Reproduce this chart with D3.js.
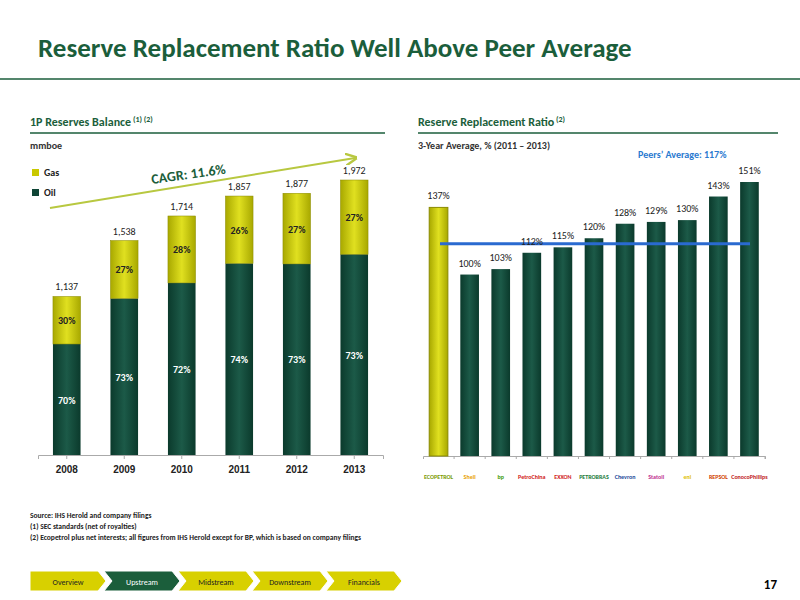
<!DOCTYPE html>
<html><head><meta charset="utf-8">
<script src="https://cdn.jsdelivr.net/npm/d3@7"></script>
<style>body{margin:0;background:#fff}svg{font-family:Calibri,"Liberation Sans Narrow","Open Sans",sans-serif}</style>
</head><body><svg width="800" height="600"></svg>
<script>
var years = ["2008","2009","2010","2011","2012","2013"];
var totals = [1137,1538,1714,1857,1877,1972];
var oilPct = [70,73,72,74,73,73];
var gasPct = [30,27,28,26,27,27];
var companies = ["ECOPETROL","Shell","bp","PetroChina","EXXON","PETROBRAS","Chevron","Statoil","eni","REPSOL","ConocoPhillips"];
var logoColors = ["#7a9a00","#e8a000","#3a9a00","#d02020","#d02020","#1a7a3a","#1a4a9a","#c03090","#e0c000","#d04000","#c02020"];
var rrr = [137,100,103,112,115,120,128,129,130,143,151];
var peerAvg = 117;

var svg = d3.select("svg");
var green = "#1b5e3b", oil = "#0f4536", gas = "#c9c800";

var defs = svg.append("defs");
function grad(id, c1, c2) {
  var g = defs.append("linearGradient").attr("id", id);
  g.append("stop").attr("offset", "0%").attr("stop-color", c2);
  g.append("stop").attr("offset", "50%").attr("stop-color", c1);
  g.append("stop").attr("offset", "100%").attr("stop-color", c2);
}
grad("gOil", "#1c5a48", "#0b3a2c");
grad("gGas", "#e0e020", "#a8a800");

// title
svg.append("text").attr("x", 38).attr("y", 57).attr("font-size", 27).attr("font-weight", "bold")
  .attr("fill", green).text("Reserve Replacement Ratio Well Above Peer Average");
svg.append("line").attr("x1", 0).attr("x2", 800).attr("y1", 79).attr("y2", 79).attr("stroke", green).attr("stroke-width", 1.5);

// section headers
function header(x, w, txt, sup) {
  var t = svg.append("text").attr("x", x).attr("y", 126).attr("font-size", 12).attr("font-weight", "bold").attr("fill", green).text(txt);
  t.append("tspan").attr("font-size", 8).attr("dy", -4).text(" " + sup);
  svg.append("line").attr("x1", x).attr("x2", x + w).attr("y1", 133).attr("y2", 133).attr("stroke", green).attr("stroke-width", 1.5);
}
header(30, 355, "1P Reserves Balance", "(1) (2)");
header(418, 360, "Reserve Replacement Ratio", "(2)");
svg.append("text").attr("x", 30).attr("y", 149).attr("font-size", 10).attr("font-weight", "bold").attr("fill", "#333").text("mmboe");
svg.append("text").attr("x", 418).attr("y", 149).attr("font-size", 10).attr("font-weight", "bold").attr("fill", "#333").text("3-Year Average, % (2011 \u2013 2013)");
svg.append("text").attr("x", 638).attr("y", 158).attr("font-size", 10).attr("font-weight", "bold").attr("fill", "#2a7ad0").text("Peers\u2019 Average: 117%");

// left chart
var x1 = d3.scaleBand().domain(years).range([38, 383]).paddingInner(0.52).paddingOuter(0.26);
var y1 = d3.scaleLinear().domain([0, 1972]).range([455, 180]);
svg.append("g").attr("transform", "translate(0,455)").call(d3.axisBottom(x1).tickSizeOuter(0).tickSize(4))
  .call(g => { g.select(".domain").attr("stroke", "#aaa"); g.selectAll("line").attr("stroke", "#aaa");
    g.selectAll("text").attr("font-size", 10).attr("font-weight", "bold").attr("fill", "#222").attr("dy", "1.1em").style("font-family", "inherit"); });
years.forEach(function (yr, i) {
  var oilV = totals[i] * oilPct[i] / 100;
  var bx = x1(yr), bw = x1.bandwidth();
  svg.append("rect").attr("x", bx).attr("y", y1(oilV)).attr("width", bw).attr("height", y1(0) - y1(oilV)).attr("fill", "url(#gOil)");
  svg.append("rect").attr("x", bx).attr("y", y1(totals[i])).attr("width", bw).attr("height", y1(oilV) - y1(totals[i])).attr("fill", "url(#gGas)").attr("stroke", "#8a8a00").attr("stroke-width", 0.5);
  svg.append("text").attr("x", bx + bw / 2).attr("y", y1(totals[i]) - 6).attr("text-anchor", "middle").attr("font-size", 10).attr("fill", "#222").text(d3.format(",")(totals[i]));
  svg.append("text").attr("x", bx + bw / 2).attr("y", (y1(oilV) + y1(totals[i])) / 2 + 4).attr("text-anchor", "middle").attr("font-size", 10).attr("font-weight", "bold").attr("fill", "#222").text(gasPct[i] + "%");
  svg.append("text").attr("x", bx + bw / 2).attr("y", (y1(oilV) + y1(0)) / 2 + 4).attr("text-anchor", "middle").attr("font-size", 10).attr("font-weight", "bold").attr("fill", "#fff").text(oilPct[i] + "%");
});
// legend
svg.append("rect").attr("x", 32).attr("y", 169).attr("width", 7).attr("height", 7).attr("fill", gas);
svg.append("text").attr("x", 44).attr("y", 176).attr("font-size", 10).attr("font-weight", "bold").attr("fill", "#222").text("Gas");
svg.append("rect").attr("x", 32).attr("y", 189).attr("width", 7).attr("height", 7).attr("fill", oil);
svg.append("text").attr("x", 44).attr("y", 196).attr("font-size", 10).attr("font-weight", "bold").attr("fill", "#222").text("Oil");
// CAGR arrow
defs.append("marker").attr("id", "arr").attr("viewBox", "0 0 10 10").attr("refX", 8).attr("refY", 5).attr("markerWidth", 6).attr("markerHeight", 6).attr("orient", "auto")
  .append("path").attr("d", "M0,0L10,5L0,10").attr("fill", "none").attr("stroke", "#b8c840").attr("stroke-width", 2);
svg.append("line").attr("x1", 50).attr("y1", 208).attr("x2", 355).attr("y2", 158).attr("stroke", "#b8c840").attr("stroke-width", 2).attr("marker-end", "url(#arr)");
svg.append("text").attr("transform", "translate(152,184) rotate(-8)").attr("font-size", 14).attr("font-weight", "bold").attr("fill", green).text("CAGR: 11.6%");

// right chart
var x2 = d3.scaleBand().domain(companies).range([423, 765]).paddingInner(0.4).paddingOuter(0.2);
var y2 = d3.scaleLinear().domain([0, 151]).range([456, 182]);
svg.append("g").attr("transform", "translate(0,456)").call(d3.axisBottom(x2).tickSizeOuter(0).tickSize(3).tickFormat(""))
  .call(g => { g.select(".domain").attr("stroke", "#aaa"); g.selectAll("line").attr("stroke", "#aaa").attr("transform", "translate(" + (x2.step() / 2) + ",0)"); });
svg.selectAll(".rb").data(rrr).enter().append("rect")
  .attr("x", (d, i) => x2(companies[i])).attr("y", d => y2(d)).attr("width", x2.bandwidth()).attr("height", d => y2(0) - y2(d))
  .attr("fill", (d, i) => i == 0 ? "url(#gGas)" : "url(#gOil)").attr("stroke", (d, i) => i == 0 ? "#8a8a00" : "none");
svg.append("line").attr("x1", 440).attr("x2", 750).attr("y1", y2(peerAvg)).attr("y2", y2(peerAvg)).attr("stroke", "#2a6ad0").attr("stroke-width", 3);
svg.selectAll(".rl").data(rrr).enter().append("text")
  .attr("x", (d, i) => x2(companies[i]) + x2.bandwidth() / 2).attr("y", d => y2(d) - 8)
  .attr("text-anchor", "middle").attr("font-size", 10).attr("fill", "#222").text(d => d + "%");
svg.selectAll(".lg").data(companies).enter().append("text")
  .attr("x", d => x2(d) + x2.bandwidth() / 2).attr("y", 479).attr("text-anchor", "middle")
  .attr("font-size", 6).attr("font-weight", "bold").attr("fill", (d, i) => logoColors[i]).text(d => d);

// footnotes
var notes = ["Source: IHS Herold and company filings", "(1)    SEC standards (net of royalties)", "(2)    Ecopetrol plus net interests; all figures from IHS Herold except for BP, which is based on company filings"];
notes.forEach(function (n, i) {
  svg.append("text").attr("x", 30).attr("y", 518 + i * 11).attr("font-size", 7.5).attr("font-weight", "bold").attr("fill", "#222").text(n);
});

// nav
var nav = ["Overview", "Upstream", "Midstream", "Downstream", "Financials"];
nav.forEach(function (n, i) {
  var x = 30 + i * 74, w = 76, h = 20, y = 571;
  svg.append("path").attr("d", "M" + x + "," + y + "h" + (w - 8) + "l8," + h / 2 + "l-8," + h / 2 + "h-" + (w - 8) + (i ? "l8,-" + h / 2 : "") + "z")
    .attr("fill", i == 1 ? green : "#d8d000").attr("stroke", "#fff");
  svg.append("text").attr("x", x + w / 2).attr("y", y + 14).attr("text-anchor", "middle").attr("font-size", 8).attr("fill", i == 1 ? "#fff" : "#222").text(n);
});
svg.append("text").attr("x", 777).attr("y", 589).attr("text-anchor", "end").attr("font-size", 13).attr("font-weight", "bold").text("17");
</script></body></html>
